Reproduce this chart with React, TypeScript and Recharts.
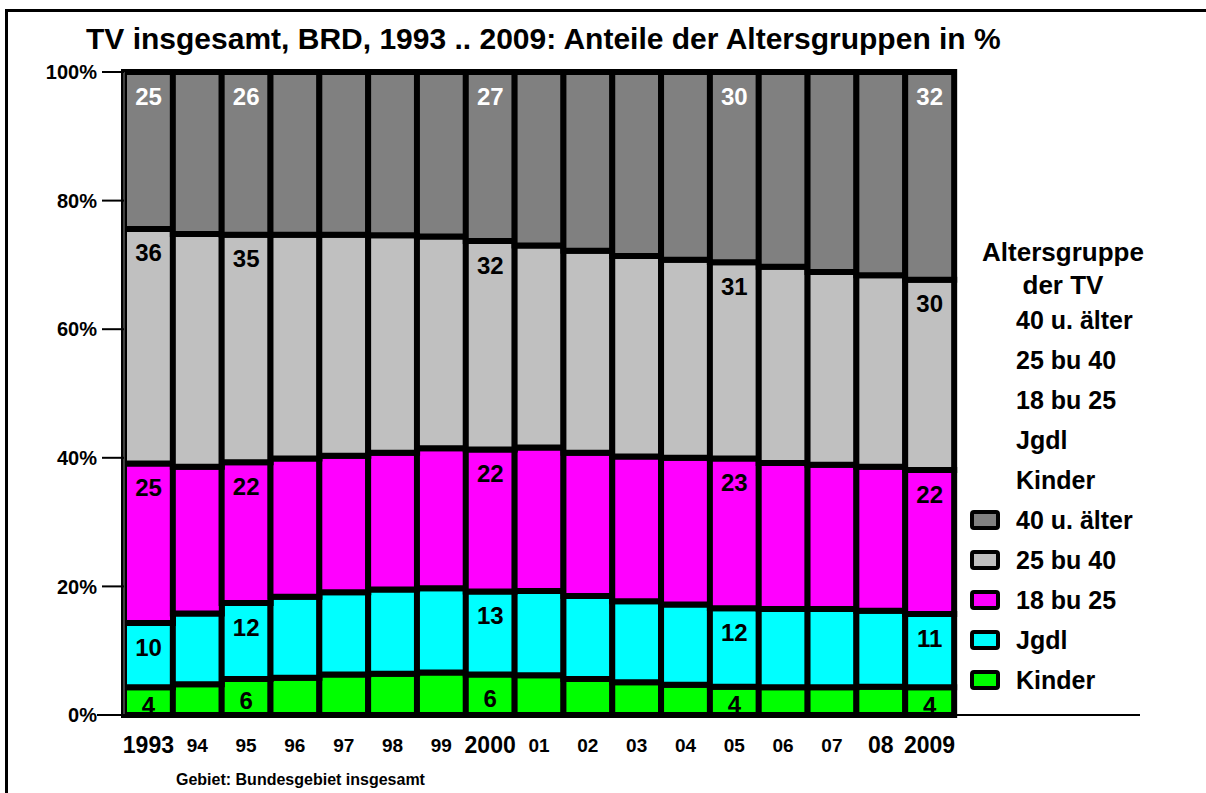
import { BarChart, Bar, XAxis, YAxis, Legend, LabelList } from "recharts";

const FONT = '"Liberation Sans", Arial, sans-serif';

// years on the category axis
const years = ["1993", "94", "95", "96", "97", "98", "99", "2000", "01", "02", "03", "04", "05", "06", "07", "08", "2009"];
const bigYears = ["1993", "2000", "08", "2009"];

// shares in %, bottom to top
const kinder = [4.3, 4.8, 5.6, 5.8, 6.3, 6.4, 6.6, 6.3, 6.2, 5.6, 5.1, 4.7, 4.4, 4.3, 4.3, 4.4, 4.3];
const jgdl = [10.0, 11.0, 11.8, 12.6, 12.8, 13.1, 13.1, 12.9, 13.1, 12.9, 12.6, 12.5, 12.2, 12.2, 12.2, 11.8, 11.4];
const age18to25 = [24.8, 22.8, 21.9, 21.5, 21.2, 21.3, 21.8, 22.1, 22.3, 22.3, 22.5, 22.8, 23.3, 22.7, 22.4, 22.4, 22.4];
const age25to40 = [36.5, 36.2, 35.4, 34.8, 34.4, 33.8, 32.9, 32.4, 31.4, 31.4, 31.2, 30.8, 30.5, 30.5, 30.0, 29.8, 29.6];
const age40plus = [24.4, 25.2, 25.3, 25.3, 25.3, 25.4, 25.6, 26.3, 27.0, 27.8, 28.6, 29.2, 29.6, 30.3, 31.1, 31.6, 32.3];

// printed value labels (only on some bars)
const lblKinder = ["4", "", "6", "", "", "", "", "6", "", "", "", "", "4", "", "", "", "4"];
const lblJgdl = ["10", "", "12", "", "", "", "", "13", "", "", "", "", "12", "", "", "", "11"];
const lbl18 = ["25", "", "22", "", "", "", "", "22", "", "", "", "", "23", "", "", "", "22"];
const lbl25 = ["36", "", "35", "", "", "", "", "32", "", "", "", "", "31", "", "", "", "30"];
const lbl40 = ["25", "", "26", "", "", "", "", "27", "", "", "", "", "30", "", "", "", "32"];

const legendOrder = ["40 u. älter", "25 bu 40", "18 bu 25", "Jgdl", "Kinder"];
const yTicks = [0, 20, 40, 60, 80, 100];

const data = years.map((year, i) => ({
  year,
  kinder: kinder[i],
  jgdl: jgdl[i],
  a18: age18to25[i],
  a25: age25to40[i],
  a40: age40plus[i],
  lK: lblKinder[i],
  lJ: lblJgdl[i],
  l18: lbl18[i],
  l25: lbl25[i],
  l40: lbl40[i],
}));

function YearTick(props: any) {
  const { x, y, payload } = props;
  const big = bigYears.includes(payload.value);
  return (
    <text
      x={x}
      y={y + 22}
      textAnchor="middle"
      dominantBaseline="central"
      fontSize={big ? 23 : 19}
      fontWeight="bold"
      fontFamily={FONT}
      fill="#000"
    >
      {payload.value}
    </text>
  );
}

const makeLabel = (color: string, centered: boolean) => (props: any) => {
  const { x, y, width, height, value } = props;
  if (!value) return null;
  const cy = centered ? y + height / 2 + 4 : y + 24;
  return (
    <text
      x={x + width / 2}
      y={cy}
      textAnchor="middle"
      dominantBaseline="central"
      fontSize={24}
      fontWeight="bold"
      fontFamily={FONT}
      fill={color}
    >
      {value}
    </text>
  );
};

function LegendBox(props: any) {
  const items = [...(props.payload || [])].sort(
    (a: any, b: any) => legendOrder.indexOf(a.value) - legendOrder.indexOf(b.value)
  );
  const row = { height: 40, lineHeight: "40px", whiteSpace: "nowrap" as const };
  return (
    <div style={{ fontFamily: FONT, fontWeight: "bold", fontSize: 25, color: "#000", textAlign: "left" }}>
      <div style={{ width: 206, textAlign: "center", height: 36, lineHeight: "36px", fontSize: 26 }}>Altersgruppe</div>
      <div style={{ width: 206, textAlign: "center", height: 30, lineHeight: "30px", fontSize: 26 }}>der TV</div>
      {items.map((it: any) => (
        <div key={"t" + it.value} style={{ ...row, paddingLeft: 56 }}>
          {it.value}
        </div>
      ))}
      {items.map((it: any) => (
        <div key={"s" + it.value} style={{ ...row, display: "flex", alignItems: "center" }}>
          <span
            style={{
              display: "inline-block",
              boxSizing: "border-box",
              width: 30,
              height: 20,
              marginLeft: 10,
              marginRight: 16,
              border: "4px solid #000",
              borderRadius: 4,
              background: it.color,
            }}
          />
          {it.value}
        </div>
      ))}
    </div>
  );
}

export default function App() {
  return (
    <div style={{ position: "relative", width: 1206, height: 793, background: "#fff", overflow: "hidden" }}>
      <style>{`body{margin:0;overflow:hidden;background:#fff}`}</style>
      <div
        style={{
          position: "absolute",
          left: 5,
          top: 9,
          width: 1300,
          height: 900,
          border: "3px solid #000",
        }}
      />
      <div
        style={{
          position: "absolute",
          left: 86,
          top: 23,
          fontFamily: FONT,
          fontWeight: "bold",
          fontSize: 30,
          lineHeight: "32px",
          whiteSpace: "nowrap",
          color: "#000",
        }}
      >
        TV insgesamt, BRD, 1993 .. 2009: Anteile der Altersgruppen in %
      </div>
      <div style={{ position: "absolute", left: 0, top: 0 }}>
        <BarChart
          width={1206}
          height={793}
          data={data}
          margin={{ top: 72, right: 252, bottom: 0, left: 0 }}
          barCategoryGap={0}
        >
          <XAxis
            dataKey="year"
            height={78}
            axisLine={false}
            tickLine={false}
            interval={0}
            tick={<YearTick />}
          />
          <YAxis
            type="number"
            domain={[0, 100]}
            ticks={yTicks}
            width={124}
            tickSize={22}
            tickMargin={5}
            tickFormatter={(v: number) => v + "%"}
            tick={{ fill: "#000", fontSize: 20, fontWeight: "bold", fontFamily: FONT }}
            tickLine={{ stroke: "#000", strokeWidth: 2 }}
            axisLine={{ stroke: "#808080" }}
          />
          <Legend
            layout="vertical"
            verticalAlign="middle"
            align="center"
            wrapperStyle={{ position: "absolute", left: 960, top: 234, width: 246 }}
            content={<LegendBox />}
          />
          <Bar dataKey="kinder" name="Kinder" stackId="a" fill="#00ff00" stroke="#000" strokeWidth={6} isAnimationActive={false}>
            <LabelList dataKey="lK" content={makeLabel("#000", true)} />
          </Bar>
          <Bar dataKey="jgdl" name="Jgdl" stackId="a" fill="#00ffff" stroke="#000" strokeWidth={6} isAnimationActive={false}>
            <LabelList dataKey="lJ" content={makeLabel("#000", false)} />
          </Bar>
          <Bar dataKey="a18" name="18 bu 25" stackId="a" fill="#ff00ff" stroke="#000" strokeWidth={6} isAnimationActive={false}>
            <LabelList dataKey="l18" content={makeLabel("#000", false)} />
          </Bar>
          <Bar dataKey="a25" name="25 bu 40" stackId="a" fill="#c0c0c0" stroke="#000" strokeWidth={6} isAnimationActive={false}>
            <LabelList dataKey="l25" content={makeLabel("#000", false)} />
          </Bar>
          <Bar dataKey="a40" name="40 u. älter" stackId="a" fill="#808080" stroke="#000" strokeWidth={6} isAnimationActive={false}>
            <LabelList dataKey="l40" content={makeLabel("#fff", false)} />
          </Bar>
        </BarChart>
      </div>
      <div style={{ position: "absolute", left: 97, top: 714, width: 1043, height: 2, background: "#000" }} />
      <div
        style={{
          position: "absolute",
          left: 176,
          top: 770,
          fontFamily: FONT,
          fontWeight: "bold",
          fontSize: 16,
          lineHeight: "20px",
          whiteSpace: "nowrap",
          color: "#000",
        }}
      >
        Gebiet: Bundesgebiet insgesamt
      </div>
    </div>
  );
}
